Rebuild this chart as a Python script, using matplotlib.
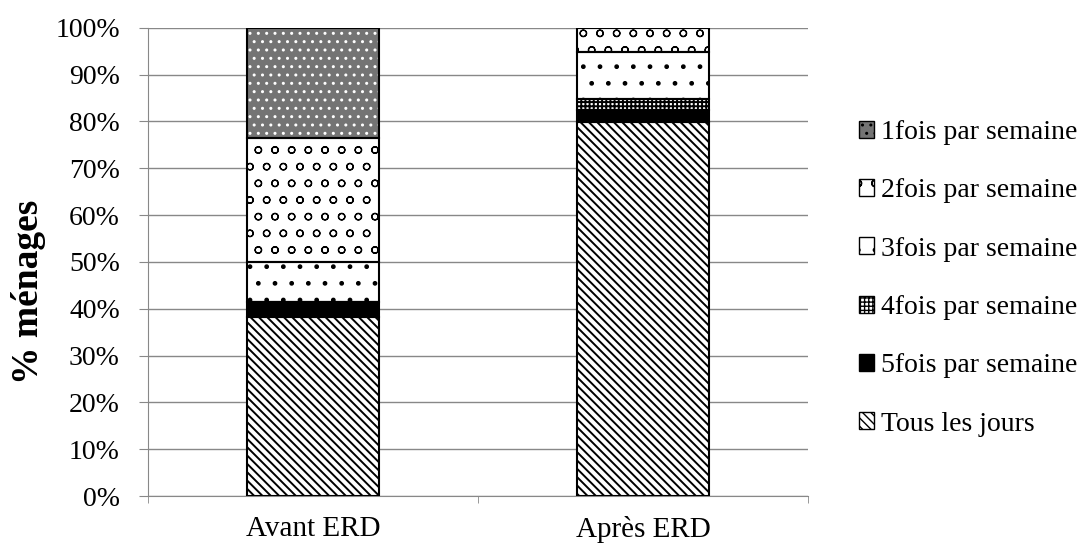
import numpy as np
import matplotlib.pyplot as plt
from matplotlib.patches import Patch

plt.rcParams['font.family'] = ['Liberation Serif', 'DejaVu Serif']

# Categories and stacked shares (% of households)
categories = ["Avant ERD", "Après ERD"]
series = ["Tous les jours", "5fois par semaine", "4fois par semaine",
          "3fois par semaine", "2fois par semaine", "1fois par semaine"]
tous_les_jours = [38.2, 79.8]
fois5 = [3.3, 2.7]
fois4 = [0.0, 2.3]
fois3 = [8.5, 10.1]
fois2 = [26.5, 5.1]
fois1 = [23.5, 0.0]
values = [tous_les_jours, fois5, fois4, fois3, fois2, fois1]

# fill colour, hatch, hatch colour, hatch width for each series
styles = [
    ("white", "\\\\\\\\", "black", 1.4),
    ("black", None, "black", 1.0),
    ("white", "++++", "black", 1.4),
    ("white", ".", "black", 1.0),
    ("white", "o", "black", 0.9),
    ("#747474", "..", "white", 1.0),
]

fig, ax = plt.subplots(figsize=(10.91, 5.44), dpi=100)
fig.subplots_adjust(left=0.136, right=0.741, top=0.949, bottom=0.088)

x = np.arange(len(categories))
width = 0.4
bottom = np.zeros(len(categories))
handles = []
for name, vals, (fc, hatch, hc, hw) in zip(series, values, styles):
    vals = np.array(vals)
    with plt.rc_context({'hatch.linewidth': hw}):
        ax.bar(x, vals, width, bottom=bottom, facecolor=fc, hatch=hatch,
               edgecolor=hc, linewidth=0, zorder=3)
        handles.append(Patch(facecolor=fc, hatch=hatch, edgecolor="black", linewidth=1))
    ax.bar(x, vals, width, bottom=bottom, facecolor="none",
           edgecolor="black", linewidth=1.5, zorder=4)
    bottom += vals

ax.set_xlim(-0.5, 1.5)
ax.set_ylim(0, 100)
ax.set_yticks(np.arange(0, 101, 10))
ax.set_yticklabels([f"{v}%" for v in range(0, 101, 10)])
ax.yaxis.grid(True, color="#888888", linewidth=1)
ax.set_axisbelow(True)

ax.set_xticks(x)
ax.set_xticklabels(categories)
ax.set_xticks([-0.5, 0.5, 1.5], minor=True)
ax.tick_params(axis="x", which="major", length=0, labelsize=21, pad=14)
ax.tick_params(axis="x", which="minor", length=5, color="#888888")
ax.tick_params(axis="y", length=6.5, color="#888888", labelsize=20, pad=14)

for s in ["top", "right"]:
    ax.spines[s].set_visible(False)
ax.spines["left"].set_color("#888888")
ax.spines["bottom"].set_color("#888888")

ax.set_ylabel("% ménages", fontsize=27, fontweight="bold")
ax.yaxis.set_label_coords(-0.155, 0.436)

ax.legend(handles[::-1], series[::-1], loc="center left",
          bbox_to_anchor=(1.06, 0.465), frameon=False, fontsize=20,
          handlelength=0.55, handleheight=0.55, handletextpad=0.25,
          labelspacing=1.2, borderaxespad=0)

fig.savefig("out.png", dpi=100)
